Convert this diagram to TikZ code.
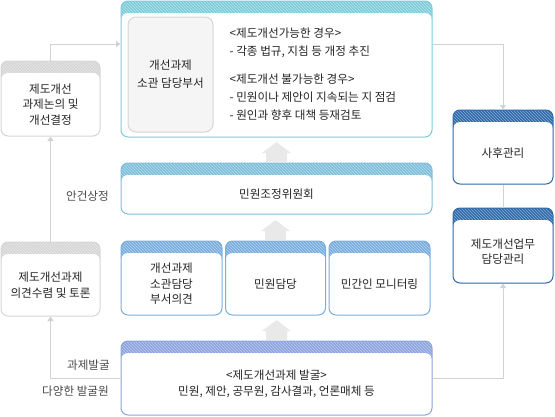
\documentclass[tikz,border=0pt]{standalone}
\usepackage{fontspec}
\setmainfont{Noto Sans CJK KR}
\usepackage{tikz}
\usetikzlibrary{positioning, arrows.meta, patterns}
\definecolor{hdteal}{HTML}{7FCCD9}
\definecolor{hdsky}{HTML}{7FBEDA}
\definecolor{hdblue}{HTML}{7AAEDE}
\definecolor{hdviolet}{HTML}{8BA4DC}
\definecolor{hdnavy}{HTML}{2E6AAA}
\definecolor{hdgray}{HTML}{D6D6D6}
\definecolor{linegray}{HTML}{D2D2D2}
\definecolor{blockgray}{HTML}{E9E9E9}
\definecolor{txtgray}{HTML}{252525}
\definecolor{notegray}{HTML}{4A4A4A}

\begin{document}
\begin{tikzpicture}[x=1pt, y=-1pt,
    every node/.style={text=txtgray, font=\fontsize{11.6}{15.5}\selectfont},
    panel/.style={draw=#1, line width=1pt, rounded corners=7pt, fill=white, inner sep=0pt,
      path picture={
        \fill[#1, sharp corners] (path picture bounding box.north west)
          rectangle ([yshift=-22pt]path picture bounding box.north east);
        \fill[pattern=north west lines, pattern color=#1!55!white, sharp corners]
          (path picture bounding box.north west)
          rectangle ([yshift=-22pt]path picture bounding box.north east);
        \fill[white, rounded corners=7pt] ([yshift=-12pt]path picture bounding box.north west)
          rectangle ([yshift=-10pt]path picture bounding box.south east);
      }},
    wide/.style={minimum width=311pt},
    small/.style={minimum width=99pt},
    dept/.style={draw=hdgray, fill=black!4, line width=1pt, rounded corners=8pt,
      minimum width=85pt, minimum height=115pt, align=center},
    body/.style={align=center, inner sep=0pt},
    note/.style={text=notegray, anchor=east, inner sep=0pt},
    link/.style={draw=linegray, line width=1pt},
    tip/.style={-{Triangle[width=6pt, length=4.5pt]}}]
  \useasboundingbox (0,0) rectangle (555,416);

  % main column
  \node[panel=hdteal, wide, minimum height=136pt] (tb) at (276.5,69) {};
  \node[panel=hdsky, wide, minimum height=51pt] (cm) at (276.5,188.5) {};
  \node[panel=hdblue, minimum width=101pt, minimum height=74pt] (r1) at (171.5,278) {};
  \node[panel=hdblue, minimum width=100pt, minimum height=74pt, right=2.5pt of r1] (r2) {};
  \node[panel=hdblue, minimum width=101pt, minimum height=74pt, right=2.5pt of r2] (r3) {};
  \node[panel=hdviolet, wide, minimum height=74pt] (bt) at (276.5,378) {};

  % side columns
  \node[panel=hdgray, small, minimum height=75pt] (lt) at (50.5,98.5) {};
  \node[panel=hdgray, small, minimum height=74pt] (lm) at (50.5,279) {};
  \node[panel=hdnavy, minimum width=100pt, minimum height=74pt] (rt) at (503,147) {};
  \node[panel=hdnavy, minimum width=100pt, minimum height=75pt] (rb) at (503,245.5) {};

  % texts
  \node[dept, font=\fontsize{11.6}{18}\selectfont] (deptbox) at (170.5,74.5) {개선과제\\소관 담당부서};
  \node[body, align=left, right=16pt of deptbox, font=\fontsize{11.6}{18}\selectfont] (cases)
    {<제도개선가능한 경우>\\- 각종 법규, 지침 등 개정 추진\\[10pt]
     <제도개선 불가능한 경우>\\- 민원이나 제안이 지속되는 지 점검\\- 원인과 향후 대책 등재검토};
  \node[body] (cmt) at ([yshift=-6pt]cm.center) {민원조정위원회};
  \node[body] (r1t) at ([yshift=-6pt]r1.center) {개선과제\\소관담당\\부서의견};
  \node[body] (r2t) at ([yshift=-6pt]r2.center) {민원담당};
  \node[body] (r3t) at ([yshift=-6pt]r3.center) {민간인 모니터링};
  \node[body] (btt) at ([yshift=-6pt]bt.center) {<제도개선과제 발굴>\\민원, 제안, 공무원, 감사결과, 언론매체 등};
  \node[body] (ltt) at ([yshift=-6pt]lt.center) {제도개선\\과제논의 및\\개선결정};
  \node[body] (lmt) at ([yshift=-6pt]lm.center) {제도개선과제\\의견수렴 및 토론};
  \node[body] (rtt) at ([yshift=-6pt]rt.center) {사후관리};
  \node[body] (rbt) at ([yshift=-6pt]rb.center) {제도개선업무\\담당관리};

  % notes
  \node[note] (agenda) at (109,196) {안건상정};
  \node[note] (found) at (110,365) {과제발굴};
  \node[note] (sources) at (109,391) {다양한 발굴원};

  % block arrows
  \foreach \lo in {cm, r2, bt}
    \fill[blockgray] ([xshift=-10.5pt, yshift=0.5pt]\lo.north) -- ++(0,-9) -- ++(-4,0)
      -- ++(14.5,-11) -- ++(14.5,11) -- ++(-4,0) -- ++(0,9) -- cycle;

  % connectors
  \draw[link, tip] (bt.west) -| (lm.south);
  \draw[link, tip] (lm.north) -- (lt.south);
  \draw[link, tip] (lt.north) |- ([yshift=25pt]tb.west);
  \draw[link, tip] ([yshift=25pt]tb.east) -| (rt.north);
  \draw[link] (rt.south) -- (rb.north);
  \draw[link, tip] (bt.east) -| (rb.south);
\end{tikzpicture}
\end{document}
